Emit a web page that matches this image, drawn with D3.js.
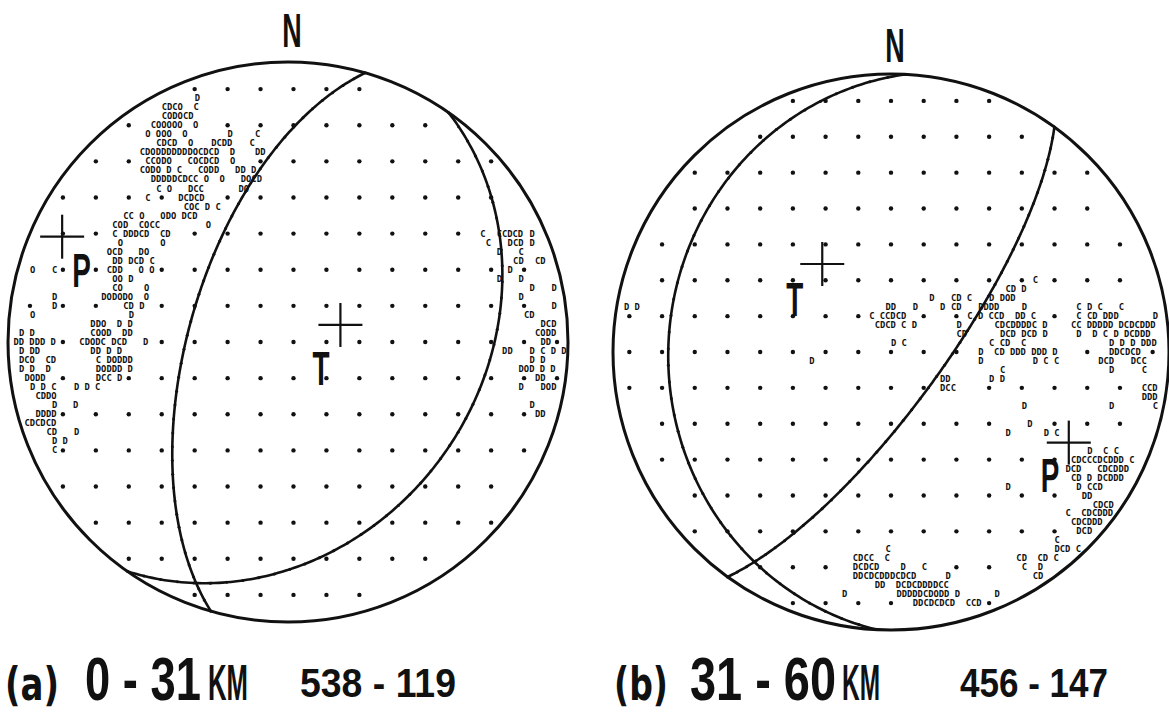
<!DOCTYPE html>
<html>
<head>
<meta charset="utf-8">
<script src="https://cdn.jsdelivr.net/npm/d3@7"></script>
<style>
  body { margin: 0; background: #fff; }
  svg { display: block; }
</style>
</head>
<body>
<svg id="chart" width="1169" height="720"></svg>
<script>
// ---- Data -------------------------------------------------------------
// Composite focal mechanisms, lower-hemisphere equal-area projection.
const panelKeys = ["(a)", "(b)"];
const depthLabels = ["0 - 31", "31 - 60"];
const countLabels = ["538 - 119", "456 - 147"];

// Nodal planes (strike, dip; dip to the right of strike)
const nodalPlanesA = [{ strike: 196, dip: 61 }, { strike: 35, dip: 32 }];
const nodalPlanesB = [{ strike: 183, dip: 21 }, { strike: 36, dip: 75 }];

// Pressure and tension axes (trend, plunge)
const stressAxesA = [{ name: "P", trend: 295, plunge: 12 }, { name: "T", trend: 72, plunge: 74 }];
const stressAxesB = [{ name: "T", trend: 322, plunge: 57 }, { name: "P", trend: 117, plunge: 29 }];

// Line-printer first-motion output: [printer line, printer column, characters]
// (line / column counted from the centre of the net; C = compression, D = dilatation)
const motionsA = [
  [-27, -17, "D"], [-26, -23, "CDCO  C"], [-25, -23, "CODOCD"], [-24, -25, "COOOOO  O"],
  [-23, -26, "O OOO  O"], [-23, -11, "D"], [-23, -6, "C"],
  [-22, -24, "CDCD  O"], [-22, -14, "DCDD"], [-22, -7, "C"],
  [-21, -27, "CDODDDDDDDOCDCD  D"], [-21, -6, "DD"],
  [-20, -26, "CCODO   COCDCD  O"], [-19, -27, "CODO D C   CODD   DD D"],
  [-18, -25, "DDDDDCDCC O  O   DOCD"], [-17, -24, "C O   DCC"], [-17, -9, "DO"],
  [-16, -26, "C"], [-16, -20, "DCDCD"], [-15, -19, "COC D C"],
  [-14, -30, "CC O   ODO DCD"], [-13, -32, "COD  COCC"], [-13, -15, "O"],
  [-12, -32, "C DDDCD  CD"], [-11, -31, "O       O"], [-10, -33, "OCD   DO"],
  [-9, -32, "DD DCD C"], [-8, -47, "O"], [-8, -43, "C"], [-8, -33, "CDD   O O"],
  [-7, -32, "OO D"], [-6, -32, "CO    O"], [-5, -43, "D"], [-5, -34, "DODODO  O"],
  [-4, -43, "D"], [-4, -30, "CD D"], [-3, -47, "O"], [-3, -29, "D"],
  [-2, -36, "DDO  D D"], [-1, -49, "D D"], [-1, -36, "COOD  DD"],
  [0, -50, "DD DDD D"], [0, -38, "CDODC DCD   D"], [1, -49, "D DD"], [1, -36, "DD D D"],
  [2, -49, "DCO  CD"], [2, -35, "C DODDD"], [3, -49, "D D  D"], [3, -35, "DODDD D"],
  [4, -48, "DODD"], [4, -35, "DCC D"], [5, -47, "D D C"], [5, -39, "D D C"],
  [6, -46, "CDDO"], [7, -43, "D   D"], [8, -46, "DDDD"], [9, -48, "CDCDCD"],
  [10, -44, "CD"], [10, -39, "D"], [11, -43, "D D"], [12, -43, "C"],
  [-12, 35, "C"], [-12, 38, "CCDCD"], [-12, 44, "D"],
  [-11, 36, "C"], [-11, 40, "DCD"], [-11, 44, "D"],
  [-10, 38, "D"], [-10, 42, "C"], [-9, 41, "CD"], [-9, 45, "CD"],
  [-8, 40, "D"], [-7, 38, "D"], [-7, 42, "D"], [-6, 44, "D"], [-6, 48, "D"],
  [-5, 42, "D"], [-4, 48, "D"], [-3, 43, "CD"], [-2, 46, "DCD"], [-1, 45, "CODD"],
  [0, 46, "DD"], [1, 39, "DD"], [1, 44, "D C D D"], [2, 44, "D D"], [3, 42, "DOD D D"],
  [4, 45, "DD"], [5, 42, "D"], [5, 46, "DOD"], [7, 44, "D"], [8, 45, "DD"]
];

const motionsB = [
  [-5, -49, "D D"], [1, -15, "D"],
  [-8, 26, "C"], [-7, 21, "CD D"],
  [-6, 7, "D"], [-6, 11, "CD C"], [-6, 18, "D DOD"],
  [-5, -1, "DD"], [-5, 4, "D"], [-5, 9, "D"], [-5, 11, "CD"], [-5, 16, "DDDD"], [-5, 24, "D"], [-5, 34, "C D C   C"],
  [-4, -4, "C CCDCD"], [-4, 14, "C D CCD  DD C"], [-4, 34, "C CD DDD"], [-4, 48, "D"],
  [-3, -3, "CDCD C D"], [-3, 12, "D"], [-3, 19, "CDCDDDDC D"], [-3, 33, "CC DDDDD DCDCDDD"],
  [-2, 12, "CD"], [-2, 20, "DCD DCD D"], [-2, 34, "D  D C D DCDDD"],
  [-1, 0, "D C"], [-1, 18, "C CD  C"], [-1, 40, "D D D DDD"],
  [0, 16, "D  CD DDD DDD D"], [0, 40, "DDCDCD"],
  [1, 16, "D"], [1, 26, "D C C"], [1, 38, "DCD"], [1, 44, "DCC"],
  [2, 20, "C"], [2, 40, "D"], [2, 46, "C"],
  [3, 9, "DD"], [3, 18, "D D"], [4, 9, "DCC"], [4, 46, "CCD"], [5, 46, "DDD"],
  [6, 24, "D"], [6, 40, "D"], [6, 48, "C"], [8, 25, "D"], [9, 21, "D"], [9, 28, "D C"],
  [11, 36, "D  C C"], [12, 33, "CDCCCDCDDD C"], [13, 32, "DCD   CDCDDD"],
  [14, 33, "CD D DCDDD"], [15, 21, "D"], [15, 34, "D CCD"], [16, 35, "DD"],
  [17, 37, "CDCD"], [18, 32, "C  CDCDDD"], [19, 33, "CDCDDD"], [20, 34, "DCD"], [21, 30, "C"],
  [22, -1, "C"], [22, 30, "DCD C"], [23, -7, "CDCC  C"], [23, 23, "CD  CD C"],
  [24, -7, "DCDCD    D   C"], [24, 24, "C  D"],
  [25, -7, "DDCDCDDDCDCD"], [25, 10, "D"], [25, 26, "CD"],
  [26, -3, "DD  DCDCDDDDCC"], [27, -9, "D"], [27, 1, "DDDDDCDODD D"], [27, 19, "D"],
  [28, 4, "DDCDCDCD  CCD"]
];

// ---- Layout -------------------------------------------------------------
const layout = [
  { cx: 288, cy: 342, R: 280, nY: 47, colShift: 1,
    labelX: 5, depthX: 85, depthW: 116, kmX: 208, kmW: 40, countX: 300, countW: 156,
    axisLabel: { P: [10, 50], T: [-28, 60] } },
  { cx: 891, cy: 352, R: 278, nY: 62, colShift: 0,
    labelX: 614, depthX: 690, depthW: 146, kmX: 842, kmW: 38, countX: 960, countW: 148,
    axisLabel: { P: [-28, 49], T: [-36, 52] } }
];
const panelData = [
  { planes: nodalPlanesA, axes: stressAxesA, motions: motionsA },
  { planes: nodalPlanesB, axes: stressAxesB, motions: motionsB }
];

const RAD = Math.PI / 180;
const ink = "#111";
const printerCols = 51, printerLines = 31;

// Lower-hemisphere equal-area projection of a line (trend, plunge) -> unit-disc coords
function project(trend, plunge) {
  const r = Math.SQRT2 * Math.sin((90 - plunge) / 2 * RAD);
  return [r * Math.sin(trend * RAD), r * Math.cos(trend * RAD)];
}

// Lines lying in a plane, swept from strike to strike+180
function greatCircle(strike, dip, step) {
  const pts = [];
  for (let a = 0; a <= 180; a += step) {
    const ca = Math.cos(a * RAD), sa = Math.sin(a * RAD);
    const n = ca * Math.cos(strike * RAD) + sa * Math.cos(dip * RAD) * Math.cos((strike + 90) * RAD);
    const e = ca * Math.sin(strike * RAD) + sa * Math.cos(dip * RAD) * Math.sin((strike + 90) * RAD);
    const d = Math.min(1, sa * Math.sin(dip * RAD));
    const plunge = Math.asin(d) / RAD;
    const trend = Math.atan2(e, n) / RAD;
    pts.push(project(trend, plunge));
  }
  return pts;
}

// Place a text so that it spans exactly `w` pixels horizontally (condensed lettering)
function fittedText(parent, str, x, y, w, font, size, weight) {
  const t = parent.append("text")
    .attr("font-family", font).attr("font-size", size).attr("font-weight", weight)
    .attr("fill", ink).attr("xml:space", "preserve").style("white-space", "pre")
    .text(str);
  const natural = t.node().getComputedTextLength() || w;
  t.attr("transform", `translate(${x},${y}) scale(${w / natural},1)`);
  return t;
}

const svg = d3.select("#chart");
const sansFont = "'Liberation Sans', Arial, sans-serif";

layout.forEach((L, i) => {
  const D = panelData[i];
  const g = svg.append("g");

  const x = d3.scaleLinear().domain([-1, 1]).range([L.cx - L.R, L.cx + L.R]);
  const y = d3.scaleLinear().domain([-1, 1]).range([L.cy + L.R, L.cy - L.R]);
  const colX = d3.scaleLinear().domain([-printerCols, printerCols]).range([L.cx - L.R, L.cx + L.R]);
  const lineY = d3.scaleLinear().domain([-printerLines, printerLines]).range([L.cy - L.R, L.cy + L.R]);

  // printer grid dots (every 6th column, 4th line), skipping cells occupied by characters
  const occupied = new Set();
  D.motions.forEach(([ln, col, s]) => {
    for (let k = -1; k <= s.length; k++) occupied.add(ln + ":" + (col + k));
  });
  const gridDots = [];
  for (let ln = -32; ln <= 32; ln += 4) {
    for (let col = -54; col <= 54; col += 6) {
      const c = col + L.colShift;
      const px = colX(c), py = lineY(ln);
      if (Math.hypot(px - L.cx, py - L.cy) > L.R - 8) continue;
      if (occupied.has(ln + ":" + c)) continue;
      gridDots.push([px, py]);
    }
  }
  g.append("g").selectAll("circle").data(gridDots).join("circle")
    .attr("cx", d => d[0]).attr("cy", d => d[1]).attr("r", 2.2).attr("fill", ink);

  // first-motion characters
  g.append("g").selectAll("text").data(D.motions).join("text")
    .attr("x", d => colX(d[1]))
    .attr("y", d => lineY(d[0]))
    .attr("dy", "0.35em")
    .attr("xml:space", "preserve")
    .style("white-space", "pre")
    .attr("font-family", "'DejaVu Sans Mono', 'Liberation Mono', monospace")
    .attr("font-weight", "bold")
    .attr("font-size", 8.8)
    .attr("fill", ink)
    .text(d => d[2]);

  // primitive circle
  g.append("circle").attr("cx", L.cx).attr("cy", L.cy).attr("r", L.R)
    .attr("fill", "none").attr("stroke", ink).attr("stroke-width", 3);

  // nodal planes
  const line = d3.line().x(d => x(d[0])).y(d => y(d[1])).curve(d3.curveLinear);
  D.planes.forEach(p => {
    const pts = greatCircle(p.strike, p.dip, 1);
    g.append("path").attr("d", line(pts))
      .attr("fill", "none").attr("stroke", ink).attr("stroke-width", 2.6);
    g.append("g").selectAll("circle").data(greatCircle(p.strike, p.dip, 4)).join("circle")
      .attr("cx", d => x(d[0])).attr("cy", d => y(d[1])).attr("r", 1.5).attr("fill", ink);
  });

  // P and T axes
  D.axes.forEach(a => {
    const [u, v] = project(a.trend, a.plunge);
    const px = x(u), py = y(v);
    g.append("line").attr("x1", px - 22).attr("x2", px + 22).attr("y1", py).attr("y2", py)
      .attr("stroke", ink).attr("stroke-width", 2.2);
    g.append("line").attr("x1", px).attr("x2", px).attr("y1", py - 22).attr("y2", py + 22)
      .attr("stroke", ink).attr("stroke-width", 2.2);
    const off = L.axisLabel[a.name];
    g.append("text")
      .attr("transform", `translate(${px + off[0]},${py + off[1]}) scale(0.58,1)`)
      .attr("font-family", sansFont)
      .attr("font-weight", "bold").attr("font-size", 48).attr("fill", ink)
      .text(a.name);
  });

  // north marker
  g.append("text")
    .attr("transform", `translate(${x(0) + 4},${L.nY}) scale(0.56,1)`)
    .attr("text-anchor", "middle")
    .attr("font-family", sansFont)
    .attr("font-weight", "bold").attr("font-size", 48).attr("fill", ink)
    .text("N");

  // caption
  const cap = svg.append("g");
  fittedText(cap, panelKeys[i], L.labelX, 700, 54, "'DejaVu Sans', sans-serif", 46, "bold");
  fittedText(cap, depthLabels[i], L.depthX, 700, L.depthW, sansFont, 62, "bold");
  fittedText(cap, "KM", L.kmX, 700, L.kmW, sansFont, 50, "bold");
  fittedText(cap, countLabels[i], L.countX, 697, L.countW, sansFont, 40, "bold");
});
</script>
</body>
</html>
